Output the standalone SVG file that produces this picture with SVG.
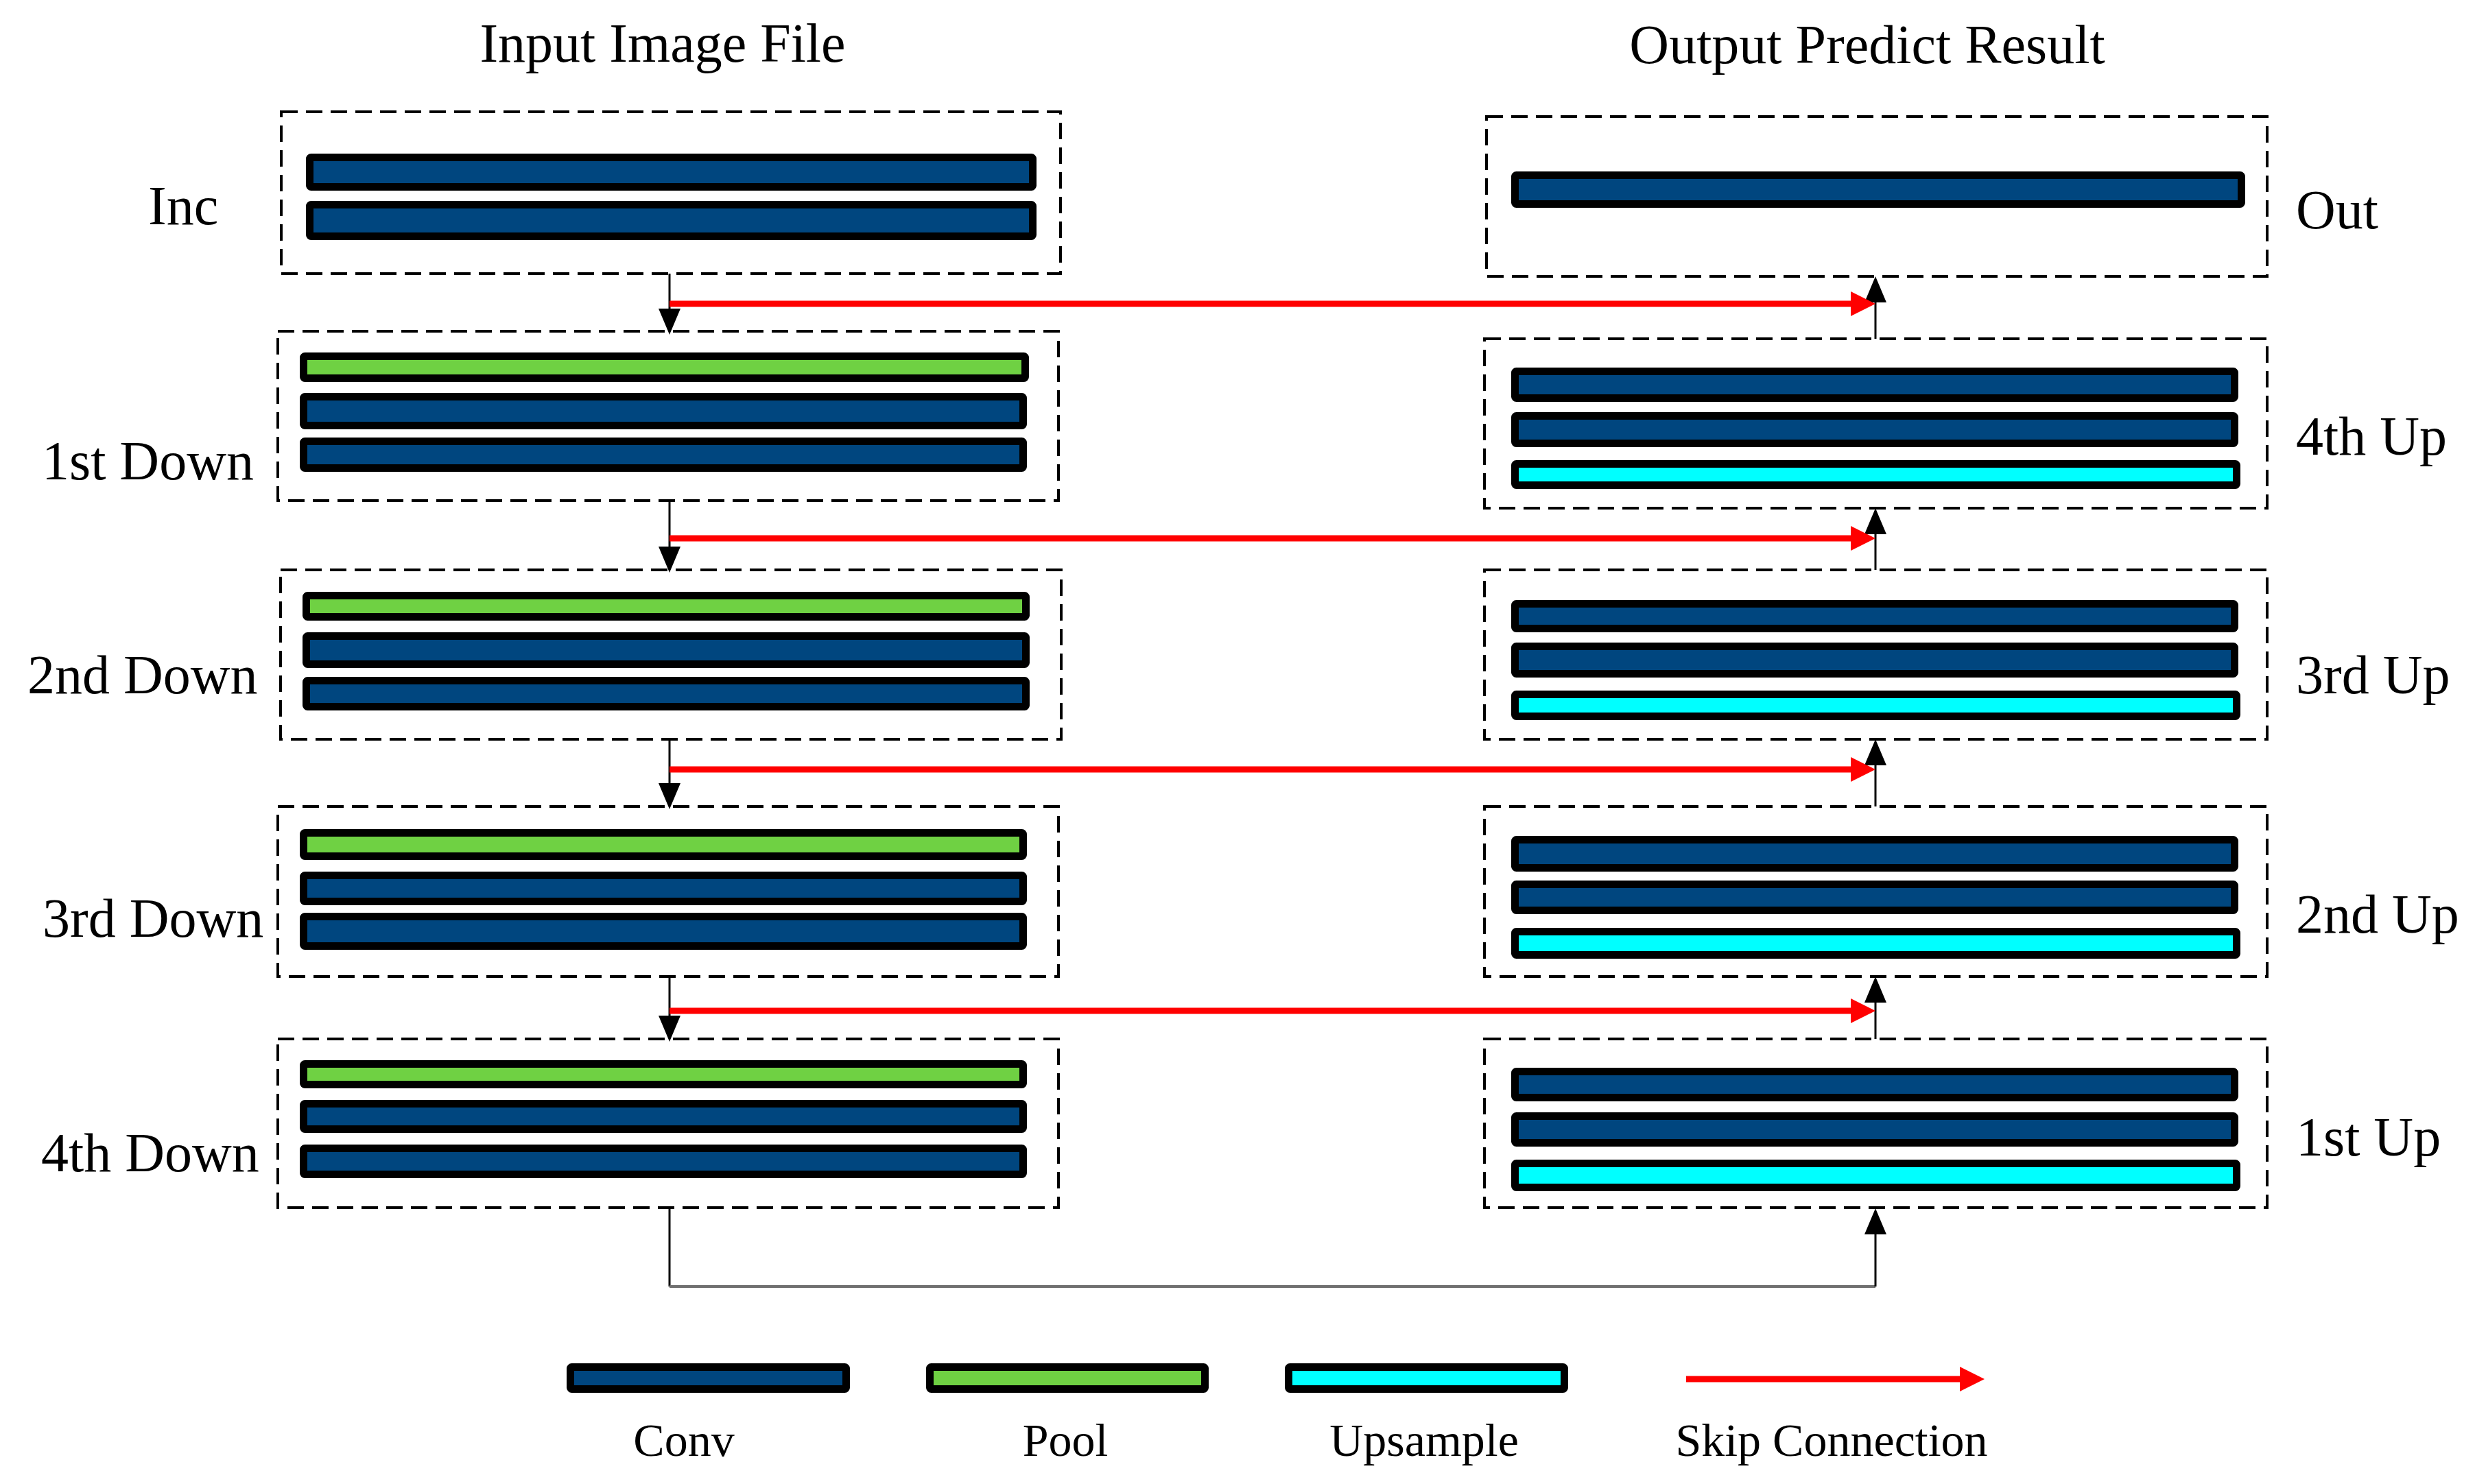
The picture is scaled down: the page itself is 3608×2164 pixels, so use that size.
<svg xmlns="http://www.w3.org/2000/svg" width="3608" height="2164" viewBox="0 0 3608 2164">
<style>
.box{fill:none;stroke:#000;stroke-width:4;stroke-dasharray:24 12}
.conv{fill:#00467F;stroke:#000;stroke-width:11;stroke-linejoin:round}
.pool{fill:#6FD143;stroke:#000;stroke-width:11;stroke-linejoin:round}
.up{fill:#00FFFF;stroke:#000;stroke-width:11;stroke-linejoin:round}
.lbl{font-family:"Liberation Serif","Times New Roman",serif;font-size:80px;fill:#000}
.leg{font-family:"Liberation Serif","Times New Roman",serif;font-size:68px;fill:#000;text-anchor:middle}
.blk{stroke:#000;stroke-width:3;fill:none}
.gry{stroke:#707070;stroke-width:4;fill:none}
.skip{stroke:#FF0000;stroke-width:9;fill:none}
</style>
<defs>
<marker id="ah" markerUnits="userSpaceOnUse" markerWidth="38" markerHeight="32" refX="0" refY="16" orient="auto" viewBox="0 0 38 32">
<path d="M0,0 L38,16 L0,32 Z" fill="#000"/>
</marker>
<marker id="rh" markerUnits="userSpaceOnUse" markerWidth="36" markerHeight="36" refX="0" refY="18" orient="auto" viewBox="0 0 36 36">
<path d="M0,0 L36,18 L0,36 Z" fill="#FF0000"/>
</marker>
</defs>

<text class="lbl" x="966" y="90" text-anchor="middle">Input Image File</text>
<text class="lbl" x="2722" y="92" text-anchor="middle">Output Predict Result</text>

<g id="connectors">
<line class="blk" x1="976" y1="399" x2="976" y2="450" marker-end="url(#ah)"/>
<line class="blk" x1="976" y1="730" x2="976" y2="797" marker-end="url(#ah)"/>
<line class="blk" x1="976" y1="1078" x2="976" y2="1142" marker-end="url(#ah)"/>
<line class="blk" x1="976" y1="1424" x2="976" y2="1481" marker-end="url(#ah)"/>
<line class="blk" x1="976" y1="1761" x2="976" y2="1876"/>
<line class="gry" x1="976" y1="1876" x2="2734" y2="1876"/>
<line class="blk" x1="2734" y1="1876" x2="2734" y2="1800" marker-end="url(#ah)"/>
<line class="blk" x1="2734" y1="494" x2="2734" y2="441" marker-end="url(#ah)"/>
<line class="blk" x1="2734" y1="831" x2="2734" y2="779" marker-end="url(#ah)"/>
<line class="blk" x1="2734" y1="1176" x2="2734" y2="1116" marker-end="url(#ah)"/>
<line class="blk" x1="2734" y1="1515" x2="2734" y2="1462" marker-end="url(#ah)"/>
<line class="skip" x1="976" y1="443" x2="2698" y2="443" marker-end="url(#rh)"/>
<line class="skip" x1="976" y1="785" x2="2698" y2="785" marker-end="url(#rh)"/>
<line class="skip" x1="976" y1="1122" x2="2698" y2="1122" marker-end="url(#rh)"/>
<line class="skip" x1="976" y1="1474" x2="2698" y2="1474" marker-end="url(#rh)"/>
</g>

<g id="inc">
<rect class="box" x="410" y="163" width="1136" height="236"/>
<rect class="conv" x="451.5" y="229.5" width="1054" height="43" rx="2"/>
<rect class="conv" x="451.5" y="298.5" width="1054" height="46" rx="2"/>
<text class="lbl" x="216" y="327">Inc</text>
</g>

<g id="down1">
<rect class="box" x="405" y="483" width="1138" height="247"/>
<rect class="pool" x="442.5" y="519.5" width="1052" height="32" rx="2"/>
<rect class="conv" x="442.5" y="578.5" width="1049" height="42" rx="2"/>
<rect class="conv" x="442.5" y="643.5" width="1049" height="39" rx="2"/>
<text class="lbl" x="61" y="699">1st Down</text>
</g>

<g id="down2">
<rect class="box" x="409" y="831" width="1138" height="247"/>
<rect class="pool" x="446.5" y="868.5" width="1049" height="31" rx="2"/>
<rect class="conv" x="446.5" y="927.5" width="1049" height="41" rx="2"/>
<rect class="conv" x="446.5" y="992.5" width="1049" height="38" rx="2"/>
<text class="lbl" x="40" y="1011">2nd Down</text>
</g>

<g id="down3">
<rect class="box" x="405" y="1176" width="1138" height="248"/>
<rect class="pool" x="442.5" y="1214.5" width="1049" height="34" rx="2"/>
<rect class="conv" x="442.5" y="1276.5" width="1049" height="38" rx="2"/>
<rect class="conv" x="442.5" y="1336.5" width="1049" height="43" rx="2"/>
<text class="lbl" x="62" y="1366">3rd Down</text>
</g>

<g id="down4">
<rect class="box" x="405" y="1515" width="1138" height="246"/>
<rect class="pool" x="442.5" y="1551.5" width="1049" height="30" rx="2"/>
<rect class="conv" x="442.5" y="1609.5" width="1049" height="37" rx="2"/>
<rect class="conv" x="442.5" y="1674.5" width="1049" height="38" rx="2"/>
<text class="lbl" x="60" y="1708">4th Down</text>
</g>

<g id="out">
<rect class="box" x="2167" y="170" width="1138" height="233"/>
<rect class="conv" x="2208.5" y="255.5" width="1059" height="42" rx="2"/>
<text class="lbl" x="3347" y="333">Out</text>
</g>

<g id="up4">
<rect class="box" x="2164" y="494" width="1141" height="247"/>
<rect class="conv" x="2208.5" y="541.5" width="1049" height="39" rx="2"/>
<rect class="conv" x="2208.5" y="606.5" width="1049" height="40" rx="2"/>
<rect class="up" x="2208.5" y="676.5" width="1052" height="31" rx="2"/>
<text class="lbl" x="3347" y="663">4th Up</text>
</g>

<g id="up3">
<rect class="box" x="2164" y="831" width="1141" height="247"/>
<rect class="conv" x="2208.5" y="880.5" width="1049" height="36" rx="2"/>
<rect class="conv" x="2208.5" y="942.5" width="1049" height="40" rx="2"/>
<rect class="up" x="2208.5" y="1012.5" width="1052" height="32" rx="2"/>
<text class="lbl" x="3347" y="1011">3rd Up</text>
</g>

<g id="up2">
<rect class="box" x="2164" y="1176" width="1141" height="248"/>
<rect class="conv" x="2208.5" y="1224.5" width="1049" height="41" rx="2"/>
<rect class="conv" x="2208.5" y="1289.5" width="1049" height="38" rx="2"/>
<rect class="up" x="2208.5" y="1358.5" width="1052" height="34" rx="2"/>
<text class="lbl" x="3347" y="1360">2nd Up</text>
</g>

<g id="up1">
<rect class="box" x="2164" y="1515" width="1141" height="246"/>
<rect class="conv" x="2208.5" y="1562.5" width="1049" height="38" rx="2"/>
<rect class="conv" x="2208.5" y="1627.5" width="1049" height="39" rx="2"/>
<rect class="up" x="2208.5" y="1696.5" width="1052" height="35" rx="2"/>
<text class="lbl" x="3347" y="1685">1st Up</text>
</g>

<g id="legend">
<rect class="conv" x="831.5" y="1993.5" width="402" height="32" rx="2"/>
<rect class="pool" x="1355.5" y="1993.5" width="401" height="32" rx="2"/>
<rect class="up" x="1878.5" y="1993.5" width="402" height="32" rx="2"/>
<line class="skip" x1="2458" y1="2011" x2="2857" y2="2011" marker-end="url(#rh)"/>
<text class="leg" x="997" y="2123">Conv</text>
<text class="leg" x="1553" y="2123">Pool</text>
<text class="leg" x="2076" y="2123">Upsample</text>
<text class="leg" x="2670" y="2123">Skip Connection</text>
</g>
</svg>
